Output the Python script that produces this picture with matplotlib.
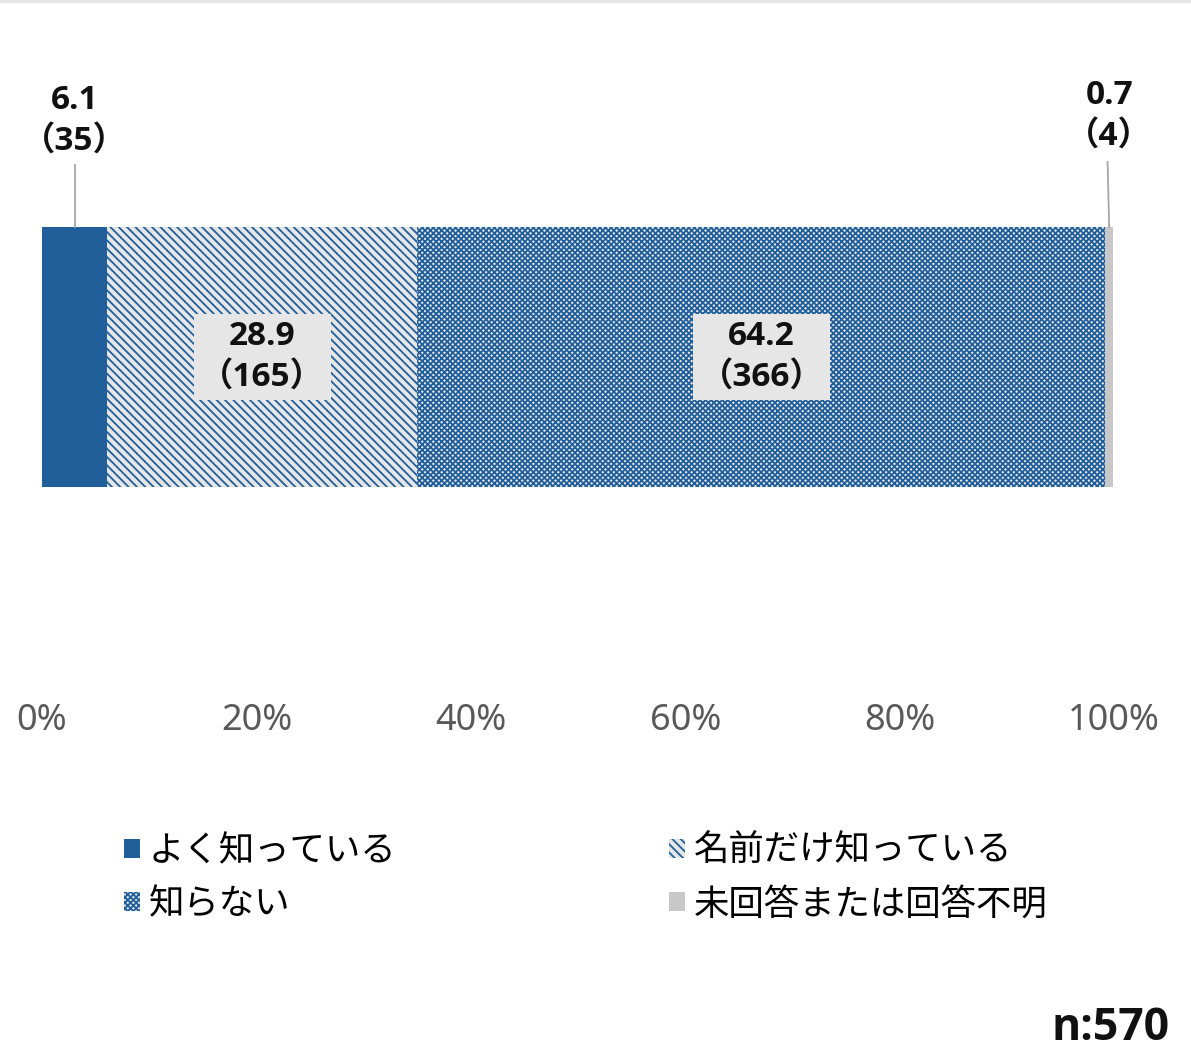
import matplotlib
matplotlib.use("Agg")
import matplotlib.pyplot as plt
from matplotlib.patches import Patch, Rectangle

plt.rcParams['font.family'] = ['Noto Sans CJK JP', 'DejaVu Sans']
plt.rcParams['hatch.linewidth'] = 1.3

categories = ["よく知っている", "名前だけ知っている", "知らない", "未回答または回答不明"]
percents = [6.1, 28.9, 64.2, 0.7]
counts = [35, 165, 366, 4]
tick_values = [0, 20, 40, 60, 80, 100]
tick_labels = ["0%", "20%", "40%", "60%", "80%", "100%"]
n_total = 570

BLUE = "#215F9A"
LIGHT = "#E6E6E6"
GRAY = "#C8C8C8"
NUMFONT = ['Noto Sans', 'Noto Sans CJK JP', 'DejaVu Sans']
BOLDFONT = ['Open Sans', 'Noto Sans CJK JP', 'DejaVu Sans']

styles = [
    dict(facecolor=BLUE, edgecolor=BLUE, hatch=None),
    dict(facecolor=LIGHT, edgecolor=BLUE, hatch="\\\\\\\\"),
    dict(facecolor=LIGHT, edgecolor=BLUE, hatch="xxxxxx"),
    dict(facecolor=GRAY, edgecolor=GRAY, hatch=None),
]

W, H = 1191, 1062
fig = plt.figure(figsize=(W / 100, H / 100), dpi=100)
fig.patches.append(Rectangle((0, 1 - 3 / H), 1, 3 / H, transform=fig.transFigure,
                             facecolor="#E6E6E6", edgecolor="none"))

ax_bottom_px, ax_top_px = 700, 80
ax = fig.add_axes([42 / W, 1 - ax_bottom_px / H, 1072 / W, (ax_bottom_px - ax_top_px) / H])
ax.set_xlim(0, 100)
ax.set_ylim(0, 1)

def ypx(p):
    return (ax_bottom_px - p) / (ax_bottom_px - ax_top_px)

bar_y = (ypx(227) + ypx(487)) / 2
bar_h = ypx(227) - ypx(487)

left = 0
lefts = []
for val, st in zip(percents, styles):
    ax.barh(bar_y, val, left=left, height=bar_h, linewidth=0, **st)
    lefts.append(left)
    left += val

bold = dict(fontweight="bold", color="#111111", family=BOLDFONT)
# inside labels
for i in (1, 2):
    cx = lefts[i] + percents[i] / 2
    ax.text(cx, bar_y, f"{percents[i]}\n（{counts[i]}）", ha="center", va="center",
            fontsize=24, linespacing=1.3, **bold,
            bbox=dict(boxstyle="square,pad=0.2", facecolor="#E6E6E6", edgecolor="none"))

# outside labels with leader lines
outside = [(0, 121, 165), (3, 116, 162)]
for i, ty, ly in outside:
    cx = lefts[i] + percents[i] / 2
    ax.text(cx, ypx(ty), f"{percents[i]}\n（{counts[i]}）", ha="center", va="center",
            fontsize=24, linespacing=1.3, **bold)
    ax.plot([cx - (0.15 if i == 3 else 0), cx], [ypx(ly), ypx(227)], color="#A6A6A6", lw=1.3)

ax.set_xticks(tick_values)
ax.set_xticklabels(tick_labels, fontsize=26, color="#595959", family=NUMFONT)
ax.tick_params(axis="x", length=0, pad=2)
ax.set_yticks([])
for s in ax.spines.values():
    s.set_visible(False)

handles = [Patch(linewidth=0, **st) for st in styles]
order = [0, 2, 1, 3]
leg = fig.legend([handles[i] for i in order], [categories[i] for i in order],
                 ncol=2, loc="upper left", bbox_to_anchor=(92 / W, 1 - 801 / H),
                 frameon=False, fontsize=25.5, handlelength=0.45, handleheight=0.45,
                 handletextpad=0.25, columnspacing=7.7, labelspacing=0.5)

fig.text(1170 / W, 1 - 1028 / H, f"n:{n_total}", ha="right", va="center",
         fontsize=32, fontweight="bold", color="#111111", family=BOLDFONT)

fig.savefig("out.png", dpi=100)
